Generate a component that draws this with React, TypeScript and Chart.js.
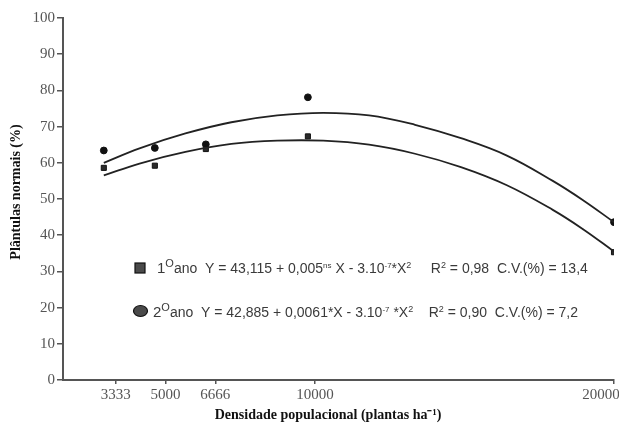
import React, { useEffect, useRef } from "react";
import { Chart, registerables } from "chart.js";

Chart.register(...registerables);

// Observed points
const densities = [3333, 5000, 6666, 10000, 20000];
const ano1Obs = [58.6, 59.2, 63.8, 67.3, 35.3];
const ano2Obs = [63.4, 64.1, 65.1, 78.1, 43.6];

// Fitted curves
const curveX = [3333, 4500, 6000, 7500, 9000, 10500, 12000, 13500, 15000, 16500, 18000, 19000, 20000];
const ano1Fit = [56.5, 59.8, 63.0, 65.2, 66.1, 66.1, 65.0, 62.5, 58.8, 53.8, 47.0, 41.6, 35.5];
const ano2Fit = [60.0, 64.0, 68.1, 71.2, 73.1, 73.8, 73.1, 70.5, 66.8, 62.0, 55.0, 49.6, 43.6];

// Axis ticks
const xTicks = [3333, 5000, 6666, 10000, 20000];
const yTicks = [0, 10, 20, 30, 40, 50, 60, 70, 80, 90, 100];

const xTitle = "Densidade populacional (plantas ha\u207B\u00B9)";
const yTitle = "Plântulas normais (%)";

type Seg = { t: string; size: number; dy?: number };

const line1: Seg[] = [
  { t: "1", size: 15 },
  { t: "O", size: 11, dy: -6 },
  { t: "ano  Y = 43,115 + 0,005", size: 14 },
  { t: "ns", size: 8, dy: -5 },
  { t: " X - 3.10", size: 14 },
  { t: "-7", size: 8, dy: -5 },
  { t: "*X", size: 14 },
  { t: "2", size: 9, dy: -5 },
  { t: "     R", size: 14 },
  { t: "2", size: 9, dy: -5 },
  { t: " = 0,98  C.V.(%) = 13,4", size: 14 },
];
const line2: Seg[] = [
  { t: "2", size: 15 },
  { t: "O", size: 11, dy: -6 },
  { t: "ano  Y = 42,885 + 0,0061*X - 3.10", size: 14 },
  { t: "-7", size: 8, dy: -5 },
  { t: " *X", size: 14 },
  { t: "2", size: 9, dy: -5 },
  { t: "    R", size: 14 },
  { t: "2", size: 9, dy: -5 },
  { t: " = 0,90  C.V.(%) = 7,2", size: 14 },
];

const SANS = '"Liberation Sans", Arial, sans-serif';
const SERIF = '"Liberation Serif", "Times New Roman", serif';

function drawRich(ctx: CanvasRenderingContext2D, x: number, y: number, segs: Seg[]) {
  ctx.textBaseline = "alphabetic";
  ctx.textAlign = "left";
  for (const s of segs) {
    ctx.font = `${s.size}px ${SANS}`;
    ctx.fillText(s.t, x, y + (s.dy || 0));
    x += ctx.measureText(s.t).width;
  }
}

const equationPlugin = {
  id: "equations",
  afterDraw(chart: any) {
    const ctx: CanvasRenderingContext2D = chart.ctx;
    ctx.save();
    ctx.fillStyle = "#4a4a4a";
    ctx.strokeStyle = "#111";
    ctx.lineWidth = 1.2;
    ctx.fillRect(135, 263, 10, 10);
    ctx.strokeRect(135, 263, 10, 10);
    ctx.beginPath();
    ctx.ellipse(140.5, 311, 7, 5.5, 0, 0, Math.PI * 2);
    ctx.fill();
    ctx.stroke();
    ctx.fillStyle = "#3a3a3a";
    drawRich(ctx, 157, 273, line1);
    drawRich(ctx, 153, 317, line2);
    ctx.restore();
  },
};

export default function App() {
  const ref = useRef<HTMLCanvasElement | null>(null);

  useEffect(() => {
    if (!ref.current) return;
    const pts = (xs: number[], ys: number[]) => xs.map((x, i) => ({ x, y: ys[i] }));
    const chart = new Chart(ref.current, {
      type: "scatter",
      data: {
        datasets: [
          {
            label: "1º ano ajuste",
            data: pts(curveX, ano1Fit),
            showLine: true,
            borderColor: "#222",
            borderWidth: 1.8,
            pointRadius: 0,
            tension: 0.4,
            xAxisID: "x",
          },
          {
            label: "2º ano ajuste",
            data: pts(curveX, ano2Fit),
            showLine: true,
            borderColor: "#222",
            borderWidth: 1.8,
            pointRadius: 0,
            tension: 0.4,
            xAxisID: "x",
          },
          {
            label: "1º ano",
            data: pts(densities, ano1Obs),
            showLine: false,
            pointStyle: "rect",
            pointRadius: 3.6,
            backgroundColor: "#2a2a2a",
            borderColor: "#111",
            borderWidth: 1,
            xAxisID: "x",
          },
          {
            label: "2º ano",
            data: pts(densities, ano2Obs),
            showLine: false,
            pointStyle: "circle",
            pointRadius: 3.4,
            backgroundColor: "#111",
            borderColor: "#111",
            borderWidth: 1,
            xAxisID: "x",
          },
        ],
      },
      options: {
        responsive: false,
        animation: false,
        layout: { padding: { top: 18, right: 5, left: 0, bottom: 0 } },
        plugins: { legend: { display: false }, tooltip: { enabled: false } },
        scales: {
          x: {
            type: "linear",
            display: false,
            min: 2000,
            max: 20000,
          },
          x2: {
            type: "linear",
            position: "bottom",
            min: 1572,
            max: 20000,
            afterBuildTicks: (s: any) => {
              s.ticks = xTicks.map((v) => ({ value: v }));
            },
            afterFit: (s: any) => {
              s.height = 48;
              s.paddingLeft = 0;
              s.paddingRight = 0;
            },
            border: { color: "#555", width: 2 },
            grid: { drawOnChartArea: false, drawTicks: true, tickLength: 4, color: "#555", lineWidth: 1.5 },
            ticks: {
              autoSkip: false,
              maxRotation: 0,
              padding: 2,
              color: "#555",
              font: { family: SERIF, size: 15 },
              callback: (v: any) => (v === 20000 ? "20000       " : String(v)),
            },
            title: {
              display: true,
              text: xTitle + "      ",
              color: "#111",
              font: { family: SERIF, size: 14, weight: "bold" },
              padding: { top: 0, bottom: 4 },
            },
          },
          y: {
            type: "linear",
            min: 0,
            max: 100,
            afterBuildTicks: (s: any) => {
              s.ticks = yTicks.map((v) => ({ value: v }));
            },
            afterFit: (s: any) => {
              s.width = 63;
            },
            border: { color: "#555", width: 2 },
            grid: { drawOnChartArea: false, drawTicks: true, tickLength: 6, color: "#555", lineWidth: 1.5 },
            ticks: {
              padding: 2,
              color: "#555",
              font: { family: SERIF, size: 15 },
            },
            title: {
              display: true,
              text: "    " + yTitle,
              color: "#111",
              font: { family: SERIF, size: 14, weight: "bold" },
              padding: { top: 8, bottom: 0 },
            },
          },
        },
      } as any,
      plugins: [equationPlugin],
    });
    return () => chart.destroy();
  }, []);

  return (
    <div style={{ position: "fixed", left: 0, top: 0, width: 619, height: 428, background: "#fff" }}>
      <canvas ref={ref} width={619} height={428} />
    </div>
  );
}
